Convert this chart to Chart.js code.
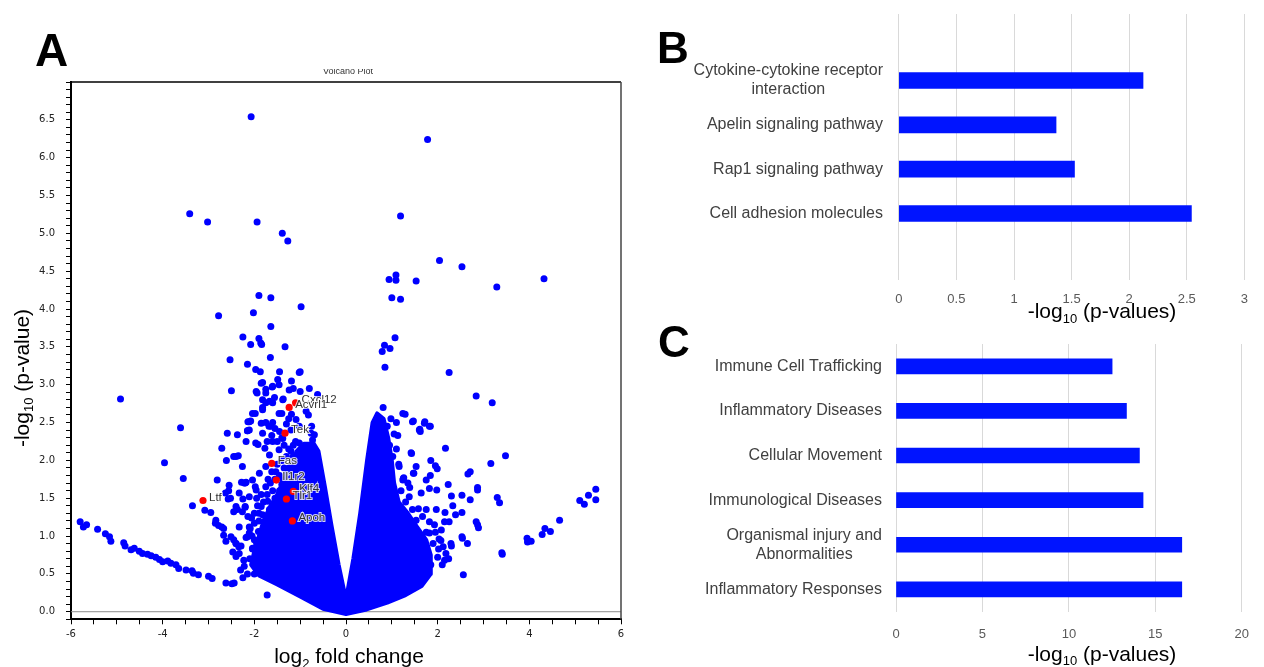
<!DOCTYPE html>
<html lang="en">
<head>
<meta charset="UTF-8">
<title>Volcano plot and enrichment</title>
<style>
  * { margin: 0; padding: 0; box-sizing: border-box; }
  body { width: 1264px; height: 667px; background: #fff; position: relative; overflow: hidden; font-family: "Liberation Sans", Arial, sans-serif; }
  .panel { position: absolute; }
  #panelA { left: 0; top: 0; width: 640px; height: 667px; }
  #panelB { left: 640px; top: 0; width: 624px; height: 330px; }
  #panelC { left: 640px; top: 320px; width: 624px; height: 347px; }
</style>
<script src="https://cdn.jsdelivr.net/npm/chart.js"></script>
</head>
<body>
<div class="panel" id="panelA"><canvas id="volcanoChart"></canvas></div>
<div class="panel" id="panelB"><canvas id="keggChart"></canvas></div>
<div class="panel" id="panelC"><canvas id="ipaChart"></canvas></div>

<script>
// ---- Panel A: volcano plot (log2 fold change, -log10 p) ----
const genePoints = [
  [-2.07,6.54],[1.78,6.24],[-3.41,5.26],[-3.02,5.15],[-1.94,5.15],[-1.39,5.0],[-1.27,4.90],[1.19,5.23],
  [2.04,4.64],[2.53,4.56],[3.29,4.29],[4.32,4.40],[1.53,4.37],[1.09,4.45],[0.94,4.39],[1.09,4.38],
  [1.0,4.15],[1.19,4.13],[1.07,3.62],[0.79,3.44],[0.84,3.52],[0.96,3.48],[0.85,3.23],
  [-4.92,2.81],[-2.78,3.91],[-1.90,4.18],[-1.64,4.15],[-0.98,4.03],[-2.02,3.95],[-1.64,3.77],[-2.25,3.63],
  [-1.90,3.61],[-1.86,3.55],[-1.84,3.53],[-2.08,3.53],[-1.33,3.50],[-2.53,3.33],[-1.65,3.36],[-2.15,3.27],
  [-1.97,3.20],[-1.87,3.17],[-1.45,3.17],[-1.02,3.16],[-1.0,3.17],[-1.49,3.07],[-1.19,3.05],[-1.85,3.02],
  [-1.82,3.03],[-2.50,2.92],[-1.94,2.89],[-1.75,2.94],[-1.61,2.97],[-1.15,2.95],[-1.0,2.91],[-0.80,2.95],
  [-1.56,2.83],[-1.37,2.81],[-1.75,2.76],[-1.67,2.78],[-1.82,2.70],[-1.98,2.62],[-1.40,2.62],[-1.19,2.61],
  [-0.82,2.60],[-3.61,2.43],[-2.08,2.52],[-2.15,2.39],[-2.59,2.36],[-0.75,2.45],[-0.69,2.34],[-0.73,2.27],
  [-1.97,2.23],[-1.92,2.21],[-1.72,2.25],[-1.77,2.16],[-2.71,2.16],[-2.61,2.0],[-2.45,2.05],[-2.35,2.06],
  [-3.96,1.97],[-3.55,1.76],[-2.81,1.74],[-2.28,1.71],
  [-1.75,2.5],[-1.68,2.45],[-1.6,2.5],[-1.55,2.42],[-1.45,2.38],[-1.4,2.3],[-1.5,2.25],[-1.3,2.48],
  [-1.25,2.55],[-1.2,2.4],[-1.62,2.33],[-1.35,2.2],
  [-2.55,1.67],[-2.63,1.57],[-2.57,1.49],[-2.52,1.50],[-2.33,1.57],[-2.25,1.49],[-2.20,1.38],[-2.45,1.32],
  [-2.37,1.35],[-3.35,1.40],[-3.08,1.34],[-2.95,1.31],[-2.84,1.21],[-2.85,1.17],[-2.78,1.14],[-2.71,1.12],
  [-2.67,1.10],[-2.67,1.01],[-2.62,0.93],[-2.51,0.99],[-2.45,0.95],[-2.40,0.90],[-2.34,0.86],[-2.29,0.87],
  [-2.47,0.79],[-2.33,0.77],[-2.23,0.68],[-2.14,1.26],[-2.11,1.12],[-2.15,0.99],[-2.14,2.51],[-2.15,2.39],
  [-2.18,1.71],[-2.62,0.38],[-2.49,0.37],
  [-5.80,1.19],[-5.73,1.12],[-5.66,1.15],[-5.42,1.09],[-5.25,1.03],[-5.16,0.99],[-5.13,0.93],[-4.85,0.91],
  [-4.82,0.87],[-4.69,0.82],[-4.62,0.84],[-4.51,0.80],[-4.44,0.77],[-4.33,0.76],[-4.25,0.74],[-4.15,0.72],
  [-4.07,0.69],[-4.0,0.66],[-3.89,0.67],[-3.82,0.64],[-3.71,0.62],[-3.65,0.57],[-3.49,0.55],[-3.36,0.54],
  [-3.33,0.51],[-3.22,0.49],[-3.0,0.47],[-2.92,0.44],
  [-2.56,1.60],[-2.2,1.70],[-1.98,1.65],[-1.96,1.61],[-1.93,1.40],[-2.20,1.39],[-2.06,1.24],[-1.82,1.28],
  [-1.71,1.46],[-2.09,1.10],[-1.91,1.06],[-1.75,1.12],[-1.78,1.01],[-2.18,0.98],[-2.0,0.95],[-2.04,0.83],
  [-1.93,0.77],[-1.72,0.22],
  [-1.60,2.98],[-1.96,2.91],[-1.75,2.89],[-1.46,3.0],[-1.24,2.93],[-0.62,2.87],[-1.82,2.80],[-1.60,2.76],
  [-1.38,2.80],[-2.04,2.62],[-1.82,2.67],[-1.46,2.62],[-2.11,2.51],[-1.85,2.49],[-1.64,2.45],[-1.09,2.54],
  [-0.87,2.65],[-1.02,2.45],[-0.76,2.36],[-1.82,2.36],[-1.60,2.25],[-1.38,2.29],[-2.11,2.40],[-2.37,2.34],
  [-2.18,2.25],[-1.67,2.07],[-1.46,2.14],[-1.20,2.12],[-1.02,2.23],[-0.84,2.18],[-2.40,2.05],[-2.26,1.92],
  [-1.89,1.83],[-1.75,1.92],[-1.53,1.85],[-1.38,1.74],[-1.75,1.65],[-2.04,1.74],[-2.22,1.70],[-2.40,1.39],
  [-2.11,1.52],[-2.26,1.32],[-1.85,1.39],[-1.67,1.35],[-1.53,1.43],[-2.0,1.17],[-1.75,1.21],[-1.49,1.26],
  [-2.33,1.12],[-2.11,1.04],[-1.82,0.99],[-1.53,1.04],[-2.40,0.90],[-2.04,0.84],[-1.75,0.82],[-2.44,0.38],
  [-2.22,0.60],[-2.40,0.73],[-1.85,0.73],[-1.53,0.60],
  [-1.1,2.25],[-1.15,2.05],[-1.25,1.9],[-1.4,1.68],[-1.55,1.5],[-1.65,1.3],[-1.8,1.1],[-1.95,0.9],
  [-2.1,0.7],[-2.0,0.5],[-1.3,1.85],[-1.45,1.6],
  [-2.0,1.3],[-1.9,1.2],[-1.95,1.5],[-1.85,1.55],[-1.7,1.75],[-1.6,1.6],[-1.62,1.85],[-1.5,1.95],
  [-1.4,2.0],[-1.3,2.05],[-1.25,2.15],[-1.15,2.2],[-2.05,1.0],[-1.9,0.6],[-2.15,0.5],[-2.3,0.55],
  [-2.25,0.45],[-1.8,1.45],[-1.72,1.55],[-1.65,1.7],[-1.45,1.8],[-1.55,1.75],[-1.35,1.9],[-1.9,1.3],
  [1.24,2.62],[1.45,2.51],[1.71,2.49],[1.60,2.40],[1.82,2.45],[1.42,2.10],[1.02,2.05],[1.16,1.92],
  [1.53,1.92],[1.75,1.74],[1.24,1.74],[0.94,1.65],[1.64,1.57],[1.38,1.52],[1.09,1.39],[1.75,1.35],
  [1.53,1.21],[1.24,1.12],[1.82,1.04],[1.64,0.95],
  [0.81,2.70],[1.29,2.61],[1.47,2.52],[1.72,2.51],[1.84,2.45],[1.61,2.41],[1.62,2.38],[1.13,2.33],
  [2.25,3.16],[2.84,2.85],[3.19,2.76],[3.48,2.06],[3.16,1.96],[2.17,2.16],[1.43,2.09],[1.85,2.0],
  [1.95,1.93],[1.99,1.89],[1.84,1.80],[1.47,1.83],[1.25,1.76],[2.66,1.82],[2.71,1.85],[2.87,1.64],
  [2.87,1.61],[2.23,1.68],[1.82,1.63],[1.98,1.61],[1.39,1.64],[2.30,1.53],[2.53,1.54],[2.71,1.48],
  [3.30,1.51],[3.35,1.44],[2.33,1.40],[2.53,1.31],[2.39,1.28],[2.16,1.31],[1.97,1.35],[1.58,1.36],
  [2.84,1.19],[2.87,1.15],[2.89,1.11],[2.15,1.19],[2.25,1.19],[1.93,1.15],[2.08,1.08],[2.53,0.99],
  [2.54,0.97],[2.65,0.90],[2.29,0.90],[2.30,0.87],[2.03,0.96],[2.07,0.94],[2.02,0.83],[2.18,0.77],
  [2.15,0.68],[2.24,0.70],[3.40,0.78],[3.41,0.76],[3.95,0.97],[3.96,0.92],[4.04,0.93],[4.28,1.02],
  [4.34,1.10],[4.46,1.06],[4.66,1.21],[5.10,1.47],[5.20,1.42],[5.29,1.54],[5.45,1.62],[5.45,1.48],
  [2.56,0.49],[1.74,0.64],[1.60,0.49],[1.63,0.45],[1.26,1.77],[1.48,1.83],
  [1.67,1.26],[1.82,1.19],[1.75,1.05],[1.9,0.9],[2.0,0.72],[1.85,0.62],[2.1,0.62],[1.95,1.05],[2.12,0.86],
  [0.9,2.45],[0.95,2.2],[1.05,2.35],[1.1,2.15],[1.15,1.95],[1.2,1.6],[1.3,1.45],[1.45,1.35],[1.35,1.7],
  [1.1,2.5],[0.98,2.55]
];

// outline of the solid, overplotted V-shaped core (log2FC, -log10 p)
const coreOutline = [
  [0,-0.03],[-0.5,0.04],[-1.0,0.2],[-1.5,0.36],[-1.9,0.48],[-2.07,0.62],[-2.0,0.8],[-1.9,1.0],
  [-1.8,1.2],[-1.65,1.4],[-1.5,1.55],[-1.35,1.75],[-1.18,1.95],[-1.08,2.12],[-0.92,2.22],[-0.7,2.22],
  [-0.6,2.12],[-0.46,1.65],[-0.32,1.15],[-0.16,0.62],[0,0.16],[0.16,0.7],[0.31,1.3],[0.46,2.0],
  [0.58,2.5],[0.68,2.62],[0.82,2.55],[0.92,2.3],[1.0,2.0],[1.05,1.7],[1.15,1.45],[1.35,1.3],
  [1.55,1.12],[1.75,0.95],[1.85,0.75],[1.85,0.5],[1.65,0.34],[1.3,0.22],[0.9,0.12],[0.45,0.03],[0,-0.03]
];

const highlightNames = ['Cxcl12', 'Acvrl1', 'Tek', 'Fas', 'Il1r2', 'Klf4', 'Tlr1', 'Apoh', 'Ltf'];
const highlightFC = [-1.10, -1.24, -1.33, -1.62, -1.52, -1.15, -1.30, -1.17, -3.12];
const highlightP = [2.76, 2.70, 2.36, 1.96, 1.74, 1.59, 1.49, 1.20, 1.47];

// ---- Panel B: KEGG pathways ----
const keggLabels = ['', ['Cytokine-cytokine receptor', 'interaction'], 'Apelin signaling pathway',
  'Rap1 signaling pathway', 'Cell adhesion molecules', ''];
const keggValues = [null, 2.12, 1.365, 1.525, 2.54, null];

// ---- Panel C: IPA functions ----
const ipaLabels = ['Immune Cell Trafficking', 'Inflammatory Diseases', 'Cellular Movement',
  'Immunological Diseases', ['Organismal injury and', 'Abnormalities'], 'Inflammatory Responses'];
const ipaValues = [12.5, 13.33, 14.08, 14.29, 16.53, 16.53];

const FONT = '"Liberation Sans", Arial, sans-serif';
const barBlue = '#0014ff';

// draws "main" + subscript + "rest" centred on x (horizontal frame)
function drawSubTitle(ctx, main, sub, rest, x, y, size) {
  const subSize = Math.round(size * 0.62);
  ctx.font = size + 'px ' + FONT;
  const w1 = ctx.measureText(main).width;
  const w3 = ctx.measureText(rest).width;
  ctx.font = subSize + 'px ' + FONT;
  const w2 = ctx.measureText(sub).width;
  let cx = x - (w1 + w2 + w3) / 2;
  ctx.textAlign = 'left';
  ctx.textBaseline = 'alphabetic';
  ctx.fillStyle = '#000';
  ctx.font = size + 'px ' + FONT;
  ctx.fillText(main, cx, y);
  ctx.font = subSize + 'px ' + FONT;
  ctx.fillText(sub, cx + w1, y + size * 0.22);
  ctx.font = size + 'px ' + FONT;
  ctx.fillText(rest, cx + w1 + w2, y);
}

const volcanoDecor = {
  id: 'volcanoDecor',
  beforeDatasetsDraw(chart) {
    const {ctx, chartArea, scales} = chart;
    const y0 = scales.y.getPixelForValue(0);
    ctx.save();
    ctx.strokeStyle = '#8c8c8c';
    ctx.lineWidth = 1;
    ctx.beginPath();
    ctx.moveTo(chartArea.left, y0);
    ctx.lineTo(chartArea.right, y0);
    ctx.stroke();
    ctx.restore();
  },
  afterDraw(chart) {
    const {ctx, chartArea, scales} = chart;
    ctx.save();
    // frame top / right
    ctx.strokeStyle = '#000';
    ctx.lineWidth = 1.5;
    ctx.beginPath();
    ctx.moveTo(chartArea.left, chartArea.top);
    ctx.lineTo(chartArea.right, chartArea.top);
    ctx.stroke();
    ctx.strokeStyle = '#444';
    ctx.beginPath();
    ctx.moveTo(chartArea.right, chartArea.top);
    ctx.lineTo(chartArea.right, chartArea.bottom);
    ctx.stroke();

    // small plot title, mostly hidden
    ctx.save();
    ctx.beginPath();
    ctx.rect(280, 69, 140, 8);
    ctx.clip();
    ctx.font = '9px ' + FONT;
    ctx.fillStyle = '#333';
    ctx.textAlign = 'center';
    ctx.fillText('Volcano Plot', 348, 74);
    ctx.restore();

    // gene labels
    ctx.font = '11.5px ' + FONT;
    ctx.textAlign = 'left';
    ctx.textBaseline = 'middle';
    ctx.lineWidth = 2;
    ctx.strokeStyle = 'rgba(255,255,255,0.8)';
    ctx.fillStyle = '#333';
    highlightNames.forEach((name, i) => {
      const px = scales.x.getPixelForValue(highlightFC[i]) + 6;
      const py = scales.y.getPixelForValue(highlightP[i]) - 3;
      ctx.strokeText(name, px, py);
      ctx.fillText(name, px, py);
    });

    // panel letter
    ctx.font = 'bold 46px ' + FONT;
    ctx.fillStyle = '#000';
    ctx.textBaseline = 'alphabetic';
    ctx.fillText('A', 35, 66);

    // axis titles
    drawSubTitle(ctx, 'log', '2', ' fold change', 349, 663, 21);
    ctx.save();
    ctx.translate(28.5, 378);
    ctx.rotate(-Math.PI / 2);
    drawSubTitle(ctx, '-log', '10', ' (p-value)', 0, 0, 21);
    ctx.restore();
    ctx.restore();
  }
};

new Chart(document.getElementById('volcanoChart'), {
  type: 'scatter',
  data: {
    datasets: [
      {
        label: 'genes',
        data: genePoints.map(p => ({x: p[0], y: p[1]})),
        backgroundColor: '#0000ff',
        pointRadius: 3.5,
        borderWidth: 0,
        order: 2
      },
      {
        label: 'core',
        data: coreOutline.map(p => ({x: p[0], y: p[1]})),
        showLine: true,
        fill: 'shape',
        tension: 0,
        backgroundColor: '#0000ff',
        borderColor: '#0000ff',
        borderWidth: 4,
        borderJoinStyle: 'round',
        borderCapStyle: 'round',
        pointRadius: 0,
        order: 3
      },
      {
        label: 'highlighted',
        data: highlightFC.map((v, i) => ({x: v, y: highlightP[i]})),
        backgroundColor: '#ff0000',
        pointRadius: 3.6,
        borderWidth: 0,
        order: 1
      }
    ]
  },
  options: {
    animation: false,
    responsive: true,
    maintainAspectRatio: false,
    layout: { padding: { left: 0, top: 82, right: 19, bottom: 0 } },
    plugins: { legend: { display: false }, tooltip: { enabled: false } },
    scales: {
      x: {
        type: 'linear', min: -6, max: 6,
        ticks: {
          stepSize: 0.5, autoSkip: false, maxRotation: 0, padding: 4,
          color: '#222', font: { family: 'DejaVu Sans', size: 10 },
          callback: v => (Math.abs(v % 2) < 1e-6 ? String(v) : '')
        },
        grid: { drawOnChartArea: false, drawTicks: true, tickLength: 5, tickColor: '#000', tickWidth: 1 },
        border: { color: '#000', width: 2 },
        afterFit: s => { s.height = 47.7; }
      },
      y: {
        min: -0.1, max: 7,
        ticks: {
          stepSize: 0.1, autoSkip: false, padding: 11,
          color: '#222', font: { family: 'DejaVu Sans', size: 10 },
          callback: v => {
            const r = Math.round(v * 10);
            return (r >= 0 && r < 70 && r % 5 === 0) ? (r / 10).toFixed(1) : '';
          }
        },
        grid: { drawOnChartArea: false, drawTicks: true, tickLength: 5, tickColor: '#000', tickWidth: 1 },
        border: { color: '#000', width: 2 },
        afterFit: s => { s.width = 71; }
      }
    }
  },
  plugins: [volcanoDecor]
});

// ---- bar panels ----
function barDecor(letter, letterX, letterY, labelRight, titleY) {
  return {
    id: 'barDecor' + letter,
    afterDraw(chart) {
      const {ctx, scales} = chart;
      ctx.save();
      ctx.font = 'bold 44px ' + FONT;
      ctx.fillStyle = '#000';
      ctx.textAlign = 'left';
      ctx.textBaseline = 'alphabetic';
      ctx.fillText(letter, letterX, letterY);

      ctx.font = '16px ' + FONT;
      ctx.fillStyle = '#404040';
      ctx.textAlign = 'center';
      ctx.textBaseline = 'middle';
      chart.data.labels.forEach((lab, i) => {
        const lines = Array.isArray(lab) ? lab : [lab];
        if (!lines[0]) return;
        const maxW = Math.max(...lines.map(l => ctx.measureText(l).width));
        const cy = scales.y.getPixelForValue(i);
        const lh = 19;
        lines.forEach((l, k) => {
          ctx.fillText(l, labelRight - maxW / 2, cy + (k - (lines.length - 1) / 2) * lh);
        });
      });

      drawSubTitle(ctx, '-log', '10', ' (p-values)', 462, titleY, 21);
      ctx.restore();
    }
  };
}

function makeBarChart(id, labels, values, cfg) {
  return new Chart(document.getElementById(id), {
    type: 'bar',
    data: {
      labels: labels,
      datasets: [{ data: values, backgroundColor: barBlue, barThickness: cfg.thickness }]
    },
    options: {
      indexAxis: 'y',
      animation: false,
      responsive: true,
      maintainAspectRatio: false,
      layout: { padding: { left: 0, top: cfg.top, right: cfg.right, bottom: 0 } },
      plugins: { legend: { display: false }, tooltip: { enabled: false } },
      scales: {
        x: {
          min: 0, max: cfg.max,
          ticks: {
            stepSize: cfg.step, padding: cfg.tickPad, color: '#595959',
            font: { family: FONT, size: 13 },
            callback: v => String(v)
          },
          grid: { color: '#d9d9d9', lineWidth: 1, drawTicks: false },
          border: { display: false },
          afterFit: s => { s.height = cfg.axisHeight; }
        },
        y: {
          grid: { display: false },
          ticks: { display: false },
          border: { display: false },
          afterFit: s => { s.width = cfg.left; }
        }
      }
    },
    plugins: [barDecor(cfg.letter, cfg.letterX, cfg.letterY, cfg.labelRight, cfg.titleY)]
  });
}

makeBarChart('keggChart', keggLabels, keggValues, {
  thickness: 16, top: 14, right: 19.6, left: 258.8, axisHeight: 50, max: 3, step: 0.5, tickPad: 12,
  letter: 'B', letterX: 17, letterY: 63, labelRight: 243, titleY: 318
});

makeBarChart('ipaChart', ipaLabels, ipaValues, {
  thickness: 15, top: 24, right: 15.2, left: 256, axisHeight: 55.3, max: 20, step: 5, tickPad: 15,
  letter: 'C', letterX: 18, letterY: 37, labelRight: 242, titleY: 340.5
});
</script>
</body>
</html>
